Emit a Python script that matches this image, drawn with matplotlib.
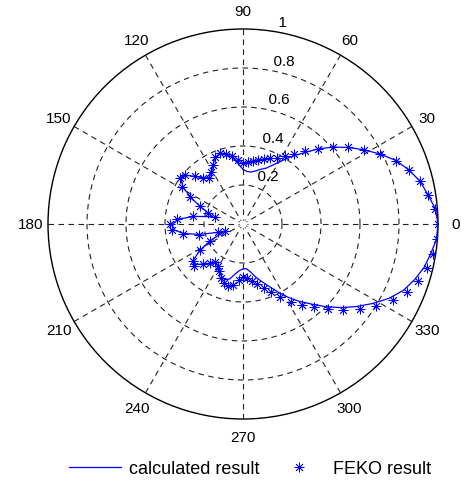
import numpy as np
import matplotlib
matplotlib.use("Agg")
import matplotlib.pyplot as plt

# ---- data (angles in degrees) ----
angles_deg = np.arange(0, 360, 4.5)
feko_r = [1.00, 0.99, 0.96, 0.935, 0.895, 0.85, 0.79, 0.728, 0.668, 0.607,
          0.547, 0.49, 0.445, 0.408, 0.38, 0.364, 0.35, 0.337, 0.327, 0.32,
          0.315, 0.328, 0.353, 0.37, 0.385, 0.37, 0.34, 0.31, 0.294, 0.313,
          0.345, 0.389, 0.40, 0.366, 0.305, 0.24, 0.19, 0.15, 0.259, 0.34,
          0.374, 0.365, 0.312, 0.231, 0.135, 0.10, 0.19, 0.26, 0.319, 0.33,
          0.29, 0.262, 0.242, 0.25, 0.27, 0.30, 0.318, 0.325, 0.315, 0.29,
          0.272, 0.278, 0.296, 0.316, 0.344, 0.377, 0.42, 0.467, 0.512, 0.557,
          0.616, 0.676, 0.741, 0.801, 0.862, 0.908, 0.941, 0.971, 0.986, 0.998]
calc_r = [1.00, 0.99, 0.96, 0.935, 0.895, 0.85, 0.79, 0.728, 0.668, 0.607,
          0.545, 0.48, 0.43, 0.38, 0.34, 0.31, 0.295, 0.28, 0.27, 0.27,
          0.28, 0.31, 0.345, 0.37, 0.38, 0.37, 0.34, 0.31, 0.295, 0.31,
          0.345, 0.385, 0.395, 0.36, 0.30, 0.24, 0.19, 0.16, 0.25, 0.33,
          0.36, 0.36, 0.31, 0.23, 0.14, 0.11, 0.19, 0.26, 0.315, 0.32,
          0.29, 0.265, 0.245, 0.25, 0.27, 0.29, 0.30, 0.29, 0.26, 0.24,
          0.23, 0.23, 0.25, 0.28, 0.31, 0.345, 0.39, 0.44, 0.49, 0.54,
          0.60, 0.66, 0.72, 0.78, 0.84, 0.89, 0.925, 0.955, 0.975, 0.995]
ring_values = [0.2, 0.4, 0.6, 0.8, 1.0]
ring_labels = ["0.2", "0.4", "0.6", "0.8", "1"]
spoke_deg = list(range(0, 360, 30))
spoke_labels = [str(a) for a in spoke_deg]
legend_labels = ["calculated result", "FEKO result"]

plt.rcParams['font.family'] = ['Liberation Sans', 'DejaVu Sans']

W, H = 461, 481
fig = plt.figure(figsize=(W / 100, H / 100), dpi=100)
cx, cy, R = 243, 225, 195
ax = fig.add_axes([(cx - R) / W, (H - cy - R) / H, 2 * R / W, 2 * R / H],
                  projection='polar')
ax.set_ylim(0, 1)
ax.grid(False)
ax.set_xticks([])
ax.set_yticks([])
ax.spines['polar'].set_color('black')
ax.spines['polar'].set_linewidth(1.0)

dash = (0, (5, 4))
tt = np.linspace(0, 2 * np.pi, 400)
for rv in ring_values[:-1]:
    ax.plot(tt, np.full_like(tt, rv), color='#222222', lw=0.8, ls=dash, zorder=1)
for a in spoke_deg:
    ax.plot([np.deg2rad(a)] * 2, [1, 0.02], color='#222222', lw=0.8, ls=dash,
            zorder=1)

fs = 11
for a, lab in zip(spoke_deg, spoke_labels):
    ax.text(np.deg2rad(a), 1.09, lab, ha='center', va='center', fontsize=fs,
            clip_on=False)
for rv, lab in zip(ring_values, ring_labels):
    ax.text(np.deg2rad(82), rv + 0.01, "  " + lab, ha='left', va='bottom',
            fontsize=fs, clip_on=False)

th = np.deg2rad(np.append(angles_deg, 360))
ax.plot(th, np.append(calc_r, calc_r[0]), color='blue', lw=0.9, zorder=3,
        label=legend_labels[0])
ax.plot(np.deg2rad(angles_deg), feko_r, ls='none', marker=(8, 2, 0),
        markersize=7, markeredgewidth=0.6, color='blue', zorder=4,
        label=legend_labels[1])

fig.legend(loc='center', bbox_to_anchor=(250 / W, 1 - 470 / H), ncol=2,
           frameon=False, fontsize=13, handlelength=2.9, columnspacing=0.7,
           handletextpad=0.45)

fig.savefig("out.png", dpi=100)
